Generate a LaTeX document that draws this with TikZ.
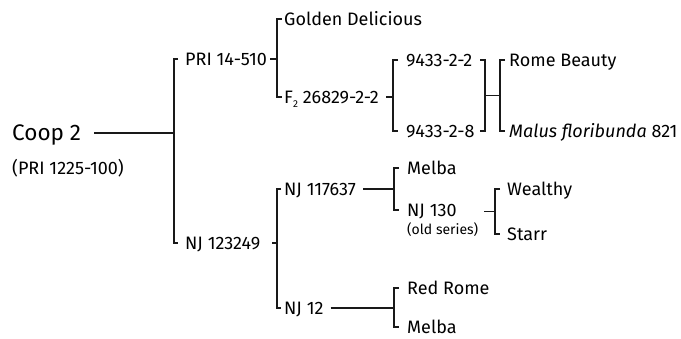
\documentclass[tikz,border=0pt]{standalone}
\usepackage{fontspec}
\setmainfont{Fira Sans}
\usetikzlibrary{calc}
\newcommand{\subtwo}{\raisebox{-0.45ex}{\fontsize{10}{12}\selectfont 2}}
\begin{document}
\begin{tikzpicture}[x=1pt,y=-1pt,
  lbl/.style={font=\fontsize{18}{21}\selectfont, anchor=west, inner sep=0pt, text height=12.4pt, text depth=0pt},
  big/.style={font=\fontsize{22.5}{26}\selectfont, anchor=west, inner sep=0pt, text height=15.5pt, text depth=0pt},
  smalllbl/.style={font=\fontsize{14}{16}\selectfont, anchor=west, inner sep=0pt, text height=10pt, text depth=0pt},
  ln/.style={line width=1.2pt, draw=black!90}]
\useasboundingbox (0,0) rectangle (681,338);
% nodes
\node[big] (coop) at (12,133) {Coop 2};
\node[lbl] (coopid) at (12,168) {(PRI 1225-100)};
\node[lbl] (pri) at (185,59) {PRI 14-510};
\node[lbl] (nj1) at (185,243) {NJ 123249};
\node[lbl] (gd) at (284,19) {Golden Delicious};
\node[lbl] (f2) at (284,97) {F\subtwo\ 26829-2-2};
\node[lbl] (a) at (406,60) {9433-2-2};
\node[lbl] (b) at (406,131) {9433-2-8};
\node[lbl] (rb) at (509,60) {Rome Beauty};
\node[lbl] (mf) at (509,131) {\textit{Malus floribunda} 821};
\node[lbl] (nj2) at (284,189) {NJ 117637};
\node[lbl] (nj12) at (284,308) {NJ 12};
\node[lbl] (melba1) at (407,168) {Melba};
\node[lbl] (nj130) at (407,210) {NJ 130};
\node[smalllbl] (old) at (407,229) {(old series)};
\node[lbl] (wealthy) at (507,189) {Wealthy};
\node[lbl] (starr) at (507,234) {Starr};
\node[lbl] (redrome) at (407,288) {Red Rome};
\node[lbl] (melba2) at (407,327) {Melba};
% Coop bracket
\draw[ln] ([xshift=-7]pri.west) -- ([xshift=-11]pri.west) -- ([xshift=-11]nj1.west) -- ([xshift=-7]nj1.west);
\draw[ln] ([xshift=13]coop.east) -- ([xshift=-11]pri.west |- coop.east);
% PRI 14-510 bracket
\draw[ln] ([xshift=-2]gd.west) -- ([xshift=-7]gd.west) -- ([xshift=-7]f2.west) -- ([xshift=-2]f2.west);
\draw[ln] ([xshift=-14]gd.west |- pri.east) -- ([xshift=-7]gd.west |- pri.east);
% F2 bracket
\draw[ln] ([xshift=-8]a.west) -- ([xshift=-13]a.west) -- ([xshift=-13]b.west) -- ([xshift=-8]b.west);
\draw[ln] ([xshift=-20]a.west |- f2.east) -- ([xshift=-13]a.west |- f2.east);
% right bracket of 9433
\draw[ln] ([xshift=-29]rb.west |- a.east) -- ([xshift=-24]rb.west |- a.east) -- ([xshift=-24]rb.west |- b.east) -- ([xshift=-29]rb.west |- b.east);
\coordinate (mid) at ($(a.east)!0.5!(b.east)$);
\draw[ln] ([xshift=-24]rb.west |- mid) -- ([xshift=-9]rb.west |- mid);
% Rome Beauty bracket
\draw[ln] ([xshift=-4]rb.west) -- ([xshift=-9]rb.west) -- ([xshift=-9]mf.west) -- ([xshift=-4]mf.west);
% NJ 123249 bracket
\draw[ln] ([xshift=-3]nj2.west) -- ([xshift=-7]nj2.west) -- ([xshift=-7]nj12.west) -- ([xshift=-3]nj12.west);
\draw[ln] ([xshift=-12]nj2.west |- nj1.east) -- ([xshift=-7]nj2.west |- nj1.east);
% NJ 117637 bracket
\draw[ln] ([xshift=-8]melba1.west) -- ([xshift=-13]melba1.west) -- ([xshift=-13]nj130.west) -- ([xshift=-8]nj130.west);
\draw[ln] ([xshift=7]nj2.east) -- ([xshift=-13]melba1.west |- nj2.east);
% NJ 130 bracket
\draw[ln] ([xshift=-7]wealthy.west) -- ([xshift=-12]wealthy.west) -- ([xshift=-12]starr.west) -- ([xshift=-7]starr.west);
\coordinate (wsmid) at ($(wealthy.west)!0.5!(starr.west)$);
\draw[ln] ([xshift=-23]wsmid) -- ([xshift=-12]wsmid);
% NJ 12 bracket
\draw[ln] ([xshift=-8]redrome.west) -- ([xshift=-13]redrome.west) -- ([xshift=-13]melba2.west) -- ([xshift=-8]melba2.west);
\draw[ln] ([xshift=7]nj12.east) -- ([xshift=-13]redrome.west |- nj12.east);
\end{tikzpicture}
\end{document}
